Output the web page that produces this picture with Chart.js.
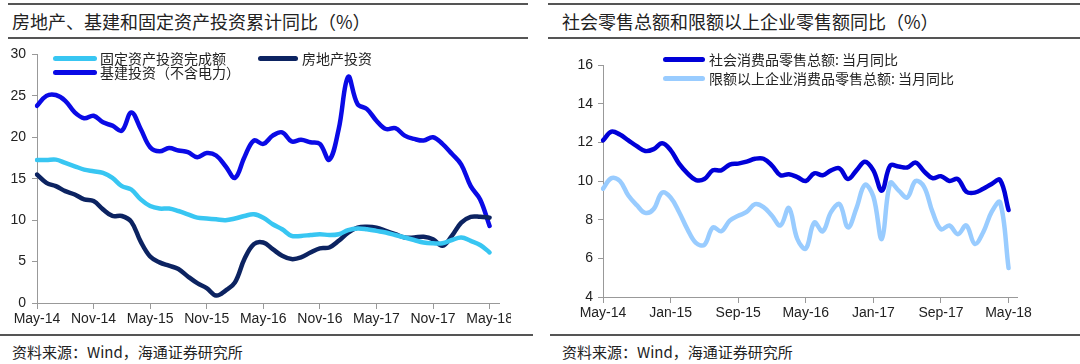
<!DOCTYPE html>
<html><head><meta charset="utf-8">
<script src="https://cdn.jsdelivr.net/npm/chart.js@4.4.1/dist/chart.umd.min.js"></script>
<style>
body{margin:0;width:1080px;height:364px;background:#fff;position:relative;overflow:hidden;font-family:"Noto Sans CJK SC",sans-serif;color:#222;}
.rule{position:absolute;height:2px;background:#555;}
.title{position:absolute;font-size:18px;line-height:18px;white-space:nowrap;}
.src{position:absolute;font-size:15px;line-height:15px;white-space:nowrap;}
.leg{position:absolute;font-size:14px;line-height:14px;white-space:nowrap;}
.leg i{position:absolute;top:5px;height:5px;border-radius:3px;}
.wrap{position:absolute;overflow:hidden;}
</style></head>
<body>
<div class="rule" style="left:8px;top:3px;width:520px"></div>
<div class="rule" style="left:8px;top:37px;width:520px"></div>
<div class="title" style="left:12px;top:12px">房地产、基建和固定资产投资累计同比（%）</div>
<div class="rule" style="left:548px;top:3px;width:532px"></div>
<div class="rule" style="left:548px;top:37px;width:532px"></div>
<div class="title" style="left:562px;top:12px">社会零售总额和限额以上企业零售额同比（%）</div>

<div class="wrap" style="left:0;top:40px;width:511px;height:292px"><canvas id="c1" width="530" height="290"></canvas></div>
<div class="wrap" style="left:548px;top:40px;width:532px;height:292px"><canvas id="c2" width="532" height="290"></canvas></div>

<div id="leg1"></div>
<div id="leg2"></div>

<div class="rule" style="left:0;top:334px;width:533px"></div>
<div class="rule" style="left:550px;top:334px;width:530px"></div>
<div class="src" style="left:12px;top:344px">资料来源：Wind，海通证券研究所</div>
<div class="src" style="left:562px;top:344px">资料来源：Wind，海通证券研究所</div>

<script>
// ---------- data ----------
const months = ["May-14","Jun-14","Jul-14","Aug-14","Sep-14","Oct-14","Nov-14","Dec-14",
"Jan-15","Feb-15","Mar-15","Apr-15","May-15","Jun-15","Jul-15","Aug-15","Sep-15","Oct-15","Nov-15","Dec-15",
"Jan-16","Feb-16","Mar-16","Apr-16","May-16","Jun-16","Jul-16","Aug-16","Sep-16","Oct-16","Nov-16","Dec-16",
"Jan-17","Feb-17","Mar-17","Apr-17","May-17","Jun-17","Jul-17","Aug-17","Sep-17","Oct-17","Nov-17","Dec-17",
"Jan-18","Feb-18","Mar-18","Apr-18","May-18",""];

const leftTickLabels = ["May-14","Nov-14","May-15","Nov-15","May-16","Nov-16","May-17","Nov-17","May-18"];
const rightTickLabels = ["May-14","Jan-15","Sep-15","May-16","Jan-17","Sep-17","May-18"];

const faiNames = ["固定资产投资完成额","房地产投资","基建投资（不含电力）"];
const fai = [17.25,17.25,17.3,16.9,16.5,16.1,15.9,15.7,15.1,14.1,13.7,12.5,11.7,11.4,11.4,11.1,10.7,10.3,10.2,10.1,
10.0,10.2,10.5,10.7,10.3,9.5,8.9,8.1,8.1,8.2,8.3,8.2,8.3,8.8,9.0,8.9,8.7,8.5,8.2,7.9,7.6,7.3,7.2,7.2,7.6,7.9,7.5,7.0,6.1];
const realEstate = [15.5,14.5,14.1,13.5,13.1,12.5,12.3,11.3,10.5,10.5,9.8,7.4,5.6,4.9,4.5,4.1,3.2,2.4,1.8,0.9,
1.5,2.5,5.3,7.1,7.3,6.5,5.7,5.3,5.5,6.1,6.6,6.7,7.5,8.5,9.1,9.2,9.1,8.7,8.3,7.9,7.9,8.0,7.7,6.9,8.1,9.7,10.4,10.4,10.3];
const infra = [23.8,25.0,25.1,24.4,23.0,22.3,22.6,21.8,21.4,20.8,23.0,21.0,18.8,18.3,18.7,18.4,18.2,17.6,18.1,17.8,
16.5,15.1,17.6,19.6,19.2,20.2,20.6,19.5,19.7,19.4,19.2,17.3,21.0,27.3,24.0,23.4,22.0,21.0,21.1,20.2,19.8,19.6,20.0,19.2,18.0,16.7,14.1,12.5,9.3];

const retailNames = ["社会消费品零售总额: 当月同比","限额以上企业消费品零售总额: 当月同比"];
const retail = [12.1,12.55,12.4,12.1,11.8,11.55,11.65,11.95,11.6,10.9,10.4,10.05,10.1,10.55,10.55,10.85,10.9,11.0,11.15,11.15,
10.8,10.3,10.35,10.2,10.0,10.4,10.3,10.55,10.65,10.1,10.55,11.0,10.55,9.5,10.8,10.75,10.7,10.95,10.5,10.15,
10.25,10.0,10.1,9.45,9.4,9.6,9.85,10.05,8.5];
const retailAbove = [9.6,10.15,10.0,9.25,8.75,8.35,8.55,9.4,9.15,8.4,7.5,6.8,6.7,7.6,7.4,7.95,8.2,8.4,8.8,8.65,
8.2,7.7,8.6,7.0,6.5,7.85,7.4,8.4,8.8,7.6,8.6,9.8,9.2,7.0,9.9,9.5,9.15,10.0,9.7,8.4,
7.5,7.7,7.25,7.7,6.75,7.35,8.4,8.9,5.5];

const leftColors = ["#38c6f2","#0c2361","#0a0ae6"];
const rightColors = ["#0000d8","#99ccff"];

// ---------- charts ----------
const tickFont = {family:"'Liberation Sans', Arial, sans-serif", size:14};
function makeChart(id, series, names, colors, yMin, yMax, yStep, tickLabels, yWidth, xHeight, pad, yPad, lw){
  new Chart(document.getElementById(id), {
    type:'line',
    data:{labels:months, datasets:series.map((s,i)=>({label:names[i], data:s, borderColor:colors[i],
      borderWidth:lw, pointRadius:0, tension:0.38, fill:false, borderCapStyle:'round', borderJoinStyle:'round'}))},
    options:{
      responsive:false, animation:false, devicePixelRatio:1,
      layout:{padding:pad},
      plugins:{legend:{display:false}, tooltip:{enabled:false}},
      scales:{
        x:{type:'category', offset:false,
          afterFit:s=>{s.height = xHeight;},
          grid:{display:true, drawOnChartArea:false, drawTicks:true, tickLength:6,
            tickColor:c=> tickLabels.includes(months[c.tick ? c.tick.value : c.index]) ? '#999' : 'rgba(0,0,0,0)'},
          border:{display:true,color:'#999',width:1},
          ticks:{autoSkip:false, maxRotation:0, minRotation:0, padding:2, color:'#222', font:tickFont,
            callback:function(v){const l=months[v]; return tickLabels.includes(l)? l : '';}}
        },
        y:{min:yMin, max:yMax,
          afterFit:s=>{s.width = yWidth;},
          grid:{display:true, drawOnChartArea:false, drawTicks:true, tickLength:5, tickColor:'#999'},
          border:{display:true,color:'#999',width:1},
          ticks:{stepSize:yStep, padding:yPad, color:'#222', font:tickFont}
        }
      }
    }
  });
}
makeChart('c1',[fai,realEstate,infra],faiNames,leftColors,0,30,5,leftTickLabels,37,27,{left:0,top:12,right:31,bottom:0},6,4.5);
makeChart('c2',[retail,retailAbove],retailNames,rightColors,4,16,2,rightTickLabels,55,33,{left:0,top:25,right:63,bottom:0},5,4.5);

// ---------- legends (HTML text) ----------
function legItem(parent,x,y,w,color,text,textX){
  const d=document.createElement('div'); d.className='leg';
  d.style.left=x+'px'; d.style.top=(y-7)+'px'; d.style.width='1px';
  d.innerHTML='<i style="left:0;width:'+w+'px;background:'+color+'"></i><span style="position:absolute;left:'+(textX-x)+'px;top:0">'+text+'</span>';
  document.body.appendChild(d);
}
legItem(null,53,58,44,leftColors[0],faiNames[0],100);
legItem(null,258,58,40,leftColors[1],faiNames[1],302);
legItem(null,53,72,44,leftColors[2],faiNames[2],100);
legItem(null,663,59,42,rightColors[0],retailNames[0],709);
legItem(null,663,78,42,rightColors[1],retailNames[1],709);
</script>
</body></html>
